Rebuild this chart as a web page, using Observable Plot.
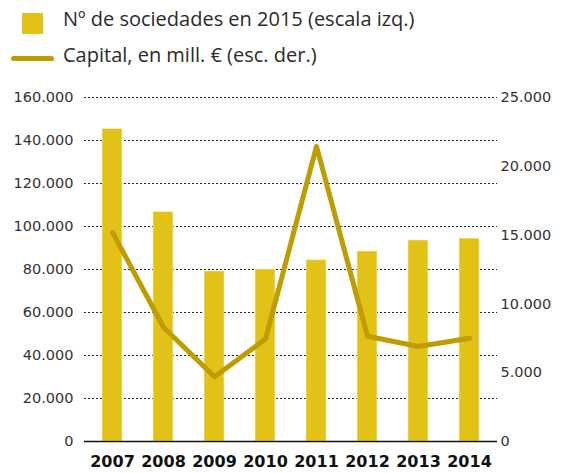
<!DOCTYPE html>
<html>
<head>
<meta charset="utf-8">
<script src="https://cdn.jsdelivr.net/npm/d3@7"></script>
<script src="https://cdn.jsdelivr.net/npm/@observablehq/plot@0.6"></script>
<style>
  body { margin: 0; background: #fff; }
  #legend { position: relative; height: 80px; width: 565px; font-family: "Open Sans", sans-serif; font-size: 20px; color: #2b2b2b; }
  .sw-bar { position: absolute; left: 22px; top: 13px; width: 21px; height: 21px; background: #E3C218; }
  .sw-line { position: absolute; left: 11px; top: 56px; width: 43px; height: 5px; border-radius: 3px; background: #BF9C00; }
  .lab1 { position: absolute; left: 63px; top: 5px; white-space: nowrap; }
  .lab2 { position: absolute; left: 63px; top: 41px; white-space: nowrap; }
</style>
</head>
<body>
<div id="legend">
  <div class="sw-bar"></div><div class="lab1">Nº de sociedades en 2015 (escala izq.)</div>
  <div class="sw-line"></div><div class="lab2">Capital, en mill. € (esc. der.)</div>
</div>
<div id="chart"></div>
<script>
const years = ["2007", "2008", "2009", "2010", "2011", "2012", "2013", "2014"];
const sociedades = [145300, 106700, 79100, 80000, 84300, 88400, 93500, 94400];
const capital = [15200, 8300, 4700, 7450, 21450, 7650, 6900, 7500];
const leftTicks = [0, 20000, 40000, 60000, 80000, 100000, 120000, 140000, 160000];
const rightTicks = [0, 5000, 10000, 15000, 20000, 25000];

const ratio = 160000 / 25000;
const data = years.map((y, i) => ({year: y, soc: sociedades[i], cap: capital[i] * ratio}));
const loc = d3.formatLocale({decimal: ",", thousands: ".", grouping: [3], currency: ["", "€"]});
const fmt = loc.format(",d");

const chart = Plot.plot({
  width: 565, height: 393,
  marginLeft: 84, marginRight: 68, marginTop: 17, marginBottom: 32,
  style: {fontFamily: "DejaVu Sans, sans-serif", fontSize: "14.5px", color: "#333", background: "#fff"},
  x: {type: "band", domain: years, paddingInner: 0.6, paddingOuter: 0.3},
  y: {domain: [0, 160000]},
  marks: [
    Plot.ruleY(leftTicks.filter(d => d > 0), {stroke: "#222", strokeWidth: 1, strokeDasharray: "2,2"}),
    Plot.barY(data, {x: "year", y: "soc", fill: "#E3C218", stroke: "#fbf3c8", strokeWidth: 0.6}),
    Plot.line(data, {x: "year", y: "cap", stroke: "#BF9C00", strokeWidth: 5, strokeLinejoin: "round", strokeLinecap: "round"}),
    Plot.ruleY([0], {stroke: "#111", strokeWidth: 1.5}),
    Plot.axisY({ticks: leftTicks, tickSize: 0, tickPadding: 11, tickFormat: fmt, label: null}),
    Plot.axisY({anchor: "right", ticks: rightTicks.map(v => v * ratio), tickSize: 0, tickPadding: 3, tickFormat: d => fmt(Math.round(d / ratio)), label: null}),
    Plot.axisX({tickSize: 0, tickPadding: 14, fontSize: 16, fontWeight: "bold", fill: "#111", label: null})
  ]
});
document.getElementById("chart").appendChild(chart);
</script>
</body>
</html>
